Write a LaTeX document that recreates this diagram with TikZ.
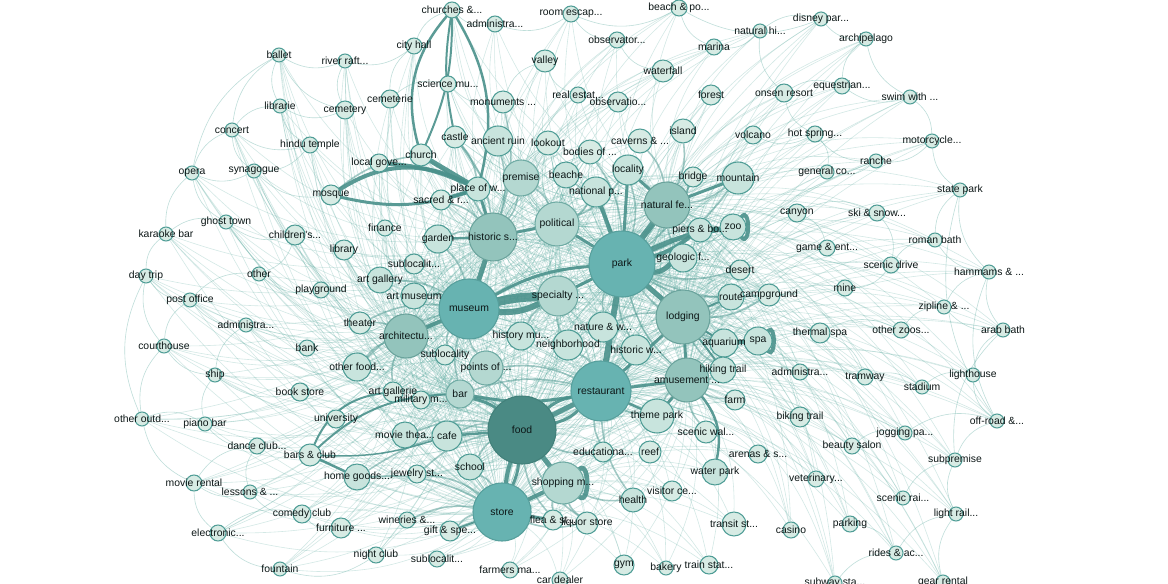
\documentclass[tikz,border=0pt]{standalone}
\usepackage{fontspec}
\newfontfamily\lblfont{Liberation Sans}
\newcommand\ld{...}
\pgfdeclarelayer{edges}
\pgfsetlayers{edges,main}
\definecolor{cS}{HTML}{D7EBE4}
\definecolor{bS}{HTML}{4F9D96}
\definecolor{cM}{HTML}{C8E4DD}
\definecolor{cL}{HTML}{B4D8D1}
\definecolor{bL}{HTML}{6FABA4}
\definecolor{cG}{HTML}{93C4BC}
\definecolor{bG}{HTML}{6AA39C}
\definecolor{cT}{HTML}{67B3B1}
\definecolor{bT}{HTML}{569F9C}
\definecolor{cD}{HTML}{4A8A84}
\definecolor{bD}{HTML}{42807A}
\definecolor{cTxt}{HTML}{0D1717}
\definecolor{cE}{HTML}{5FADA2}
\definecolor{cEM}{HTML}{579D96}
\definecolor{cEK}{HTML}{4A918B}
\tikzset{
  base/.style={circle, inner sep=0pt, line width=0.8pt},
  sn/.style={base, fill=cS, draw=bS},
  mn/.style={base, fill=cM, draw=bS},
  ln/.style={base, fill=cL, draw=bL},
  gn/.style={base, fill=cG, draw=bG},
  tn/.style={base, fill=cT, draw=bT},
  dn/.style={base, fill=cD, draw=bD},
  lbl/.style={font=\lblfont\fontsize{7.8}{8}\selectfont, text=cTxt, inner sep=0pt},
  ethin/.style={draw=cE, opacity=.27, line width=.45pt},
  emed/.style={draw=cEM, opacity=.55, line width=1.2pt},
  ethick/.style={draw=cEK, opacity=.9, line cap=round},
}
\def\nodelist{ballet/279/55/7/sn/ballet, riverraft/345/61/7/sn/river raft\ld, librarie/280/106/7/sn/librarie, cemetery/345/110/9/sn/cemetery, concert/232/130/7/sn/concert, hindutemple/310/145/8/sn/hindu temple, opera/192/173/7/sn/opera, synagogue/254/171/7/sn/synagogue, mosque/331/195/10/sn/mosque, localgove/379/163/9/sn/local gove\ld, ghosttown/226/222/7/sn/ghost town, karaoke/166/234/7/sn/karaoke bar, childrens/295/235/10/sn/children's\ld, library/344/250/10/sn/library, daytrip/146/276/7/sn/day trip, other/259/274/7/sn/other, playground/321/290/8/sn/playground, postoffice/190/300/7/sn/post office, adminleft/246/325/7/sn/administra\ld, courthouse/164/346/7/sn/courthouse, bank/307/348/8/sn/bank, ship/215/375/7/sn/ship, bookstore/300/392/9/sn/book store, university/336/419/9/sn/university, pianobar/205/424/7/sn/piano bar, otheroutd/142/419/7/sn/other outd\ld, danceclub/257/446/8/sn/dance club\ld, barsclub/310/455/11/sn/bars \& club, homegoods/357/477/13/mn/home goods\ld, movierental/194/483/8/sn/movie rental, lessons/250/492/7/sn/lessons \& \ld, comedy/302/514/9/sn/comedy club, furniture/341/528/10/sn/furniture \ld, electronic/218/533/8/sn/electronic\ld, nightclub/376/555/8/sn/night club, fountain/280/569/7/sn/fountain,
churches/452/10/8/sn/churches \&\ld, admintop/495/24/8/sn/administra\ld, cityhall/414/46/8/sn/city hall, sciencemu/448/84/8/sn/science mu\ld, cemeterie/390/99/9/sn/cemeterie, monuments/503/102/11/sn/monuments \ld, roomescape/571/14/8/sn/room escap\ld, valley/545/61/11/sn/valley, realestate/578/95/8/sn/real estat\ld, observtop/617/40/8/sn/observator\ld, observatio/618/102/10/sn/observatio\ld, castle/455/137/11/sn/castle, church/421/155/11/sn/church, ancientruin/498/141/15/mn/ancient ruin, lookout/548/143/12/sn/lookout, bodiesof/590/152/12/sn/bodies of \ld, caverns/640/141/12/sn/caverns \& \ld, beachpo/679/8/8/sn/beach \& po\ld, waterfall/663/71/11/sn/waterfall, marina/714/47/8/sn/marina, naturalhi/760/31/7/sn/natural hi\ld, disney/821/19/7/sn/disney par\ld, archipelago/866/39/7/sn/archipelago, forest/711/95/10/sn/forest, onsen/784/93/9/sn/onsen resort, equestrian/842/86/8/sn/equestrian\ld, swim/910/97/7/sn/swim with \ld, island/683/131/12/sn/island, volcano/753/135/9/sn/volcano, hotspring/815/134/8/sn/hot spring\ld, motorcycle/932/141/7/sn/motorcycle\ld, ranche/876/161/7/sn/ranche, generalco/827/172/7/sn/general co\ld, statepark/960/190/7/sn/state park,
placeofw/478/189/12/mn/place of w\ld, sacred/441/200/10/sn/sacred \& r\ld, premise/521/178/18/ln/premise, beache/566/175/13/mn/beache, nationalp/596/192/15/mn/national p\ld, locality/628/170/15/mn/locality, bridge/693/177/10/sn/bridge, mountain/738/178/16/mn/mountain, naturalfe/667/205/23/gn/natural fe\ld, historics/493/237/24/gn/historic s\ld, political/557/224/22/ln/political, finance/385/228/8/sn/finance, garden/438/239/14/mn/garden, sublocup/414/264/10/sn/sublocalit\ld, artgallery/380/280/13/mn/art gallery, artmuseum/414/296/13/mn/art museum, museum/469/309/30/tn/museum, specialty/558/296/20/ln/specialty \ld, park/622/264/33/tn/park, piers/700/230/12/mn/piers \& bo\ld, zoo/733/227/13/mn/zoo, geologic/683/258/14/mn/geologic f\ld, desert/740/270/10/sn/desert, route/731/297/13/mn/route, campground/769/295/11/sn/campground, canyon/797/213/9/sn/canyon, gameent/827/248/8/sn/game \& ent\ld, skisnow/877/213/8/sn/ski \& snow\ld, mine/845/288/8/sn/mine, scenicdrive/891/265/8/sn/scenic drive, romanbath/935/240/7/sn/roman bath, hammams/989/272/7/sn/hammams \& \ld, zipline/944/307/7/sn/zipline \& \ld, otherzoos/901/330/8/sn/other zoos\ld, arabbath/1003/330/7/sn/arab bath, thermalspa/820/333/10/sn/thermal spa, lodging/683/317/27/gn/lodging, naturew/603/327/15/mn/nature \& w\ld, historicw/636/350/15/mn/historic w\ld, neighborhood/568/345/15/mn/neighborhood, historymu/521/336/14/mn/history mu\ld, architectu/406/336/22/gn/architectu\ld, theater/360/323/11/sn/theater, sublocality/445/355/10/sn/sublocality, pointsof/486/368/17/ln/points of \ld, otherfood/357/367/14/mn/other food\ld, aquarium/724/343/14/mn/aquarium, spa/758/341/14/mn/spa, hikingtrail/723/370/13/mn/hiking trail, amusement/687/380/22/gn/amusement \ld, adminright/800/372/8/sn/administra\ld, tramway/865/377/8/sn/tramway, lighthouse/973/375/7/sn/lighthouse, stadium/922/387/7/sn/stadium,
restaurant/601/391/30/tn/restaurant, bar/460/394/14/ln/bar, artgallerie/393/392/10/sn/art gallerie, militarym/421/400/9/sn/military m\ld, farm/735/400/10/sn/farm, bikingtrail/800/417/10/sn/biking trail, offroad/997/421/7/sn/off-road \&\ld, jogging/905/433/7/sn/jogging pa\ld, themepark/657/416/17/mn/theme park, scenicwal/706/432/11/sn/scenic wal\ld, food/522/430/34/dn/food, cafe/447/436/15/mn/cafe, movietheater/405/435/13/mn/movie thea\ld, educationa/603/452/10/sn/educationa\ld, reef/650/452/11/sn/reef, arenas/758/454/9/sn/arenas \& s\ld, beautysalon/852/446/8/sn/beauty salon, subpremise/955/460/7/sn/subpremise, school/470/467/13/mn/school, jewelry/417/474/9/sn/jewelry st\ld, waterpark/715/472/13/mn/water park, shopping/563/483/21/ln/shopping m\ld, veterinary/816/479/8/sn/veterinary\ld, health/633/500/12/mn/health, visitorce/672/491/10/sn/visitor ce\ld, scenicrai/903/498/7/sn/scenic rai\ld, store/502/512/29/tn/store, wineries/407/520/8/sn/wineries \&\ld, giftspe/450/531/10/sn/gift \& spe\ld, flea/553/520/10/sn/flea \& st\ld, liquor/587/523/11/sn/liquor store, transitst/734/524/12/sn/transit st\ld, casino/791/530/8/sn/casino, parking/850/524/8/sn/parking, lightrail/956/514/7/sn/light rail\ld, rides/896/553/7/sn/rides \& ac\ld, subloclow/437/559/8/sn/sublocalit\ld, farmers/510/570/8/sn/farmers ma\ld, cardealer/560/580/8/sn/car dealer, gym/624/565/10/sn/gym, bakery/666/568/7/sn/bakery, trainstat/709/565/9/sn/train stat\ld, subway/835/583/7/sn/subway sta\ld, gearrental/943/582/7/sn/gear rental}
\begin{document}
\begin{tikzpicture}[x=0.75pt,y=-0.75pt]
\path[use as bounding box] (0,0) rectangle (1168,584);
% nodes
\foreach \i/\x/\y/\r/\s/\t in \nodelist {
  \node[style=\s, minimum size=\r*1.5pt] (\i) at (\x,\y) {};
}
% labels on top of all circles
\foreach \i/\x/\y/\r/\s/\t in \nodelist {
  \node[lbl] (\i-t) at (\x,\y) {\t};
}
\begin{pgfonlayer}{edges}
\fill[white] (0,0) rectangle (1168,584);
% left periphery to hubs
\foreach \a in {ballet,riverraft,librarie,cemetery,concert,hindutemple,opera,synagogue,ghosttown,karaoke,childrens,library,daytrip,other,playground,postoffice,adminleft,courthouse,bank,ship,bookstore,university,pianobar,otheroutd,danceclub,movierental,lessons,comedy,electronic,fountain,nightclub,furniture,cemeterie,cityhall,localgove,finance,theater}
  \foreach \b in {museum,food,store,historics,architectu,bar}
    \draw[ethin] (\a) to[bend right=18] (\b);
% top periphery
\foreach \a in {churches,admintop,sciencemu,monuments,roomescape,valley,realestate,observtop,observatio,beachpo,waterfall,marina,naturalhi,castle,lookout,ancientruin,bodiesof,caverns}
  \foreach \b in {park,historics,naturalfe,political,premise}
    \draw[ethin] (\a) to[bend right=18] (\b);
% right periphery
\foreach \a in {disney,archipelago,forest,onsen,equestrian,swim,island,volcano,hotspring,motorcycle,ranche,generalco,statepark,canyon,gameent,skisnow,mine,scenicdrive,romanbath,hammams,zipline,otherzoos,arabbath,thermalspa,adminright,tramway,lighthouse,stadium,offroad,jogging,bikingtrail,beautysalon,subpremise,veterinary,scenicrai,casino,parking,lightrail,rides,gearrental,subway}
  \foreach \b in {park,lodging,amusement,naturalfe,restaurant}
    \draw[ethin] (\a) to[bend right=18] (\b);
% bottom
\foreach \a in {homegoods,jewelry,wineries,giftspe,subloclow,farmers,cardealer,gym,bakery,trainstat,transitst,health,visitorce,liquor,flea,educationa,reef,waterpark,arenas,scenicwal,farm,themepark}
  \foreach \b in {food,store,restaurant,shopping,amusement}
    \draw[ethin] (\a) to[bend right=18] (\b);
% centre
\foreach \a in {placeofw,sacred,premise,beache,nationalp,locality,bridge,mountain,garden,sublocup,artgallery,artmuseum,naturew,historicw,neighborhood,historymu,sublocality,pointsof,otherfood,aquarium,spa,hikingtrail,cafe,movietheater,school,artgallerie,militarym,geologic,piers,zoo,desert,route,campground,church,castle,ancientruin,lookout,bodiesof}
  \foreach \b in {food,park,restaurant,store,museum,lodging,historics,political,specialty,naturalfe,architectu,amusement}
    \draw[ethin] (\a) to[bend right=18] (\b);
% hubs among themselves
\foreach \a/\b in {food/park,food/museum,food/lodging,food/historics,food/political,food/specialty,food/naturalfe,food/architectu,food/amusement,park/store,park/museum,park/historics,park/architectu,park/amusement,restaurant/store,restaurant/museum,restaurant/historics,restaurant/political,restaurant/specialty,restaurant/naturalfe,restaurant/architectu,store/museum,store/lodging,store/historics,store/political,store/specialty,store/naturalfe,store/architectu,store/amusement,museum/lodging,museum/political,museum/naturalfe,museum/amusement,lodging/historics,lodging/political,lodging/specialty,lodging/naturalfe,lodging/architectu,historics/specialty,historics/naturalfe,historics/architectu,historics/amusement,political/specialty,political/naturalfe,political/architectu,political/amusement,specialty/naturalfe,specialty/architectu,specialty/amusement,naturalfe/architectu,naturalfe/amusement,architectu/amusement}
  \draw[ethin, opacity=.4] (\a) to[bend right=15] (\b);
% periphery arcs
\foreach \a/\b in {ballet/librarie,ballet/concert,ballet/opera,ballet/riverraft,ballet/cemetery,riverraft/cemetery,riverraft/cityhall,librarie/concert,librarie/hindutemple,librarie/cemetery,concert/opera,concert/synagogue,concert/hindutemple,opera/synagogue,opera/karaoke,opera/ghosttown,synagogue/hindutemple,synagogue/mosque,ghosttown/karaoke,ghosttown/childrens,karaoke/daytrip,daytrip/postoffice,daytrip/courthouse,daytrip/otheroutd,other/postoffice,other/childrens,other/playground,postoffice/adminleft,postoffice/courthouse,adminleft/ship,adminleft/bank,courthouse/ship,courthouse/otheroutd,ship/bookstore,ship/pianobar,pianobar/danceclub,pianobar/otheroutd,danceclub/movierental,danceclub/lessons,movierental/electronic,movierental/lessons,lessons/comedy,comedy/electronic,electronic/fountain,fountain/nightclub,comedy/furniture,otheroutd/movierental,disney/archipelago,disney/naturalhi,archipelago/equestrian,archipelago/swim,equestrian/swim,equestrian/onsen,onsen/hotspring,hotspring/ranche,ranche/motorcycle,motorcycle/swim,motorcycle/statepark,statepark/romanbath,statepark/hammams,romanbath/hammams,romanbath/scenicdrive,scenicdrive/skisnow,skisnow/canyon,hammams/zipline,hammams/arabbath,zipline/arabbath,zipline/otherzoos,arabbath/lighthouse,lighthouse/offroad,lighthouse/stadium,offroad/subpremise,offroad/jogging,subpremise/lightrail,subpremise/scenicrai,lightrail/rides,lightrail/gearrental,rides/parking,rides/subway,jogging/beautysalon,stadium/tramway,tramway/thermalspa,generalco/ranche,generalco/hotspring,volcano/hotspring,marina/naturalhi,beachpo/marina,beachpo/disney,naturalhi/onsen,otherzoos/thermalspa,gameent/canyon,mine/scenicdrive,statepark/offroad,hammams/offroad,arabbath/subpremise,churches/admintop,churches/cityhall,admintop/roomescape,roomescape/beachpo,roomescape/observtop,valley/realestate,valley/monuments,observtop/waterfall,cityhall/cemeterie,sciencemu/cemeterie,sciencemu/monuments}
  \draw[ethin, opacity=.4] (\a) to[bend right=25] (\b);
% medium edges
\foreach \a/\b in {food/cafe,food/school,food/bar,food/pointsof,food/movietheater,food/jewelry,food/homegoods,food/educationa,food/flea,food/liquor,restaurant/themepark,restaurant/bar,restaurant/pointsof,restaurant/neighborhood,restaurant/historicw,restaurant/educationa,restaurant/health,store/giftspe,store/jewelry,store/school,store/liquor,store/homegoods,store/wineries,museum/artmuseum,museum/artgallery,museum/historymu,museum/garden,museum/sublocality,museum/pointsof,museum/theater,museum/otherfood,museum/bar,park/mountain,park/locality,park/naturew,park/historicw,park/beache,park/bodiesof,park/bridge,park/desert,park/route,park/campground,park/aquarium,park/amusement,lodging/hikingtrail,lodging/aquarium,lodging/route,lodging/campground,lodging/spa,lodging/naturew,amusement/themepark,amusement/scenicwal,amusement/farm,amusement/hikingtrail,historics/garden,historics/church,historics/castle,historics/ancientruin,historics/monuments,historics/premise,political/premise,political/nationalp,political/locality,naturalfe/mountain,naturalfe/island,naturalfe/caverns,naturalfe/bridge,naturalfe/geologic,architectu/otherfood,architectu/artgallerie,architectu/theater,architectu/sublocality,specialty/neighborhood,specialty/historymu,shopping/flea,shopping/liquor,shopping/health,placeofw/castle,church/mosque,historics/sacred}
  \draw[emed] (\a) to[bend right=15] (\b);
% thick edges
\foreach \a/\b/\w/\bd in {food/restaurant/5/0,food/restaurant/3/14,food/restaurant/3/-14,food/store/4/6,food/store/3/-8,food/shopping/5/0,food/bar/3/10,food/cafe/2.5/0,museum/specialty/9/-6,museum/specialty/6/14,museum/historics/5/0,museum/architectu/4/0,museum/park/3/-12,park/restaurant/6/0,park/naturalfe/6/0,park/lodging/5/0,park/geologic/5/20,park/zoo/5/-8,park/piers/4/10,park/nationalp/4/0,park/political/3/0,park/specialty/3/0,park/locality/3/0,restaurant/lodging/3/0,restaurant/amusement/3/0,restaurant/bar/3/-10,lodging/amusement/3/0,lodging/hikingtrail/2/0,amusement/themepark/3/0,amusement/waterpark/2.5/-25,historics/political/3/0,historics/placeofw/3/0,mosque/placeofw/4/-30,mosque/placeofw/3/15,localgove/placeofw/4/-10,church/placeofw/5/0,churches/church/2.5/28,churches/church/2/-12,churches/placeofw/2.5/-22,churches/castle/2/10,sacred/placeofw/4/0,aquarium/spa/4/0,store/shopping/4/0,store/flea/3/0,store/giftspe/2/0,barsclub/homegoods/2.5/0,barsclub/bar/2/-20,barsclub/artgallerie/2/-30,barsclub/cafe/1.5/10,naturalfe/mountain/3/0,naturalfe/locality/3/0,lodging/route/2/0,lodging/aquarium/2/0,zoo/piers/3/0,restaurant/themepark/2.5/0,historics/garden/2.5/0}
  \draw[ethick, line width=\w*0.75pt] (\a) to[bend right=\bd] (\b);
\draw[ethick, line width=3pt] (zoo) to[out=50,in=-50,min distance=10pt] (zoo);
\draw[ethick, line width=3pt] (spa) to[out=45,in=-45,min distance=8pt] (spa);
\draw[ethick, line width=3.5pt] (shopping) to[out=40,in=-40,min distance=10pt] (shopping);
\end{pgfonlayer}
\end{tikzpicture}
\end{document}
